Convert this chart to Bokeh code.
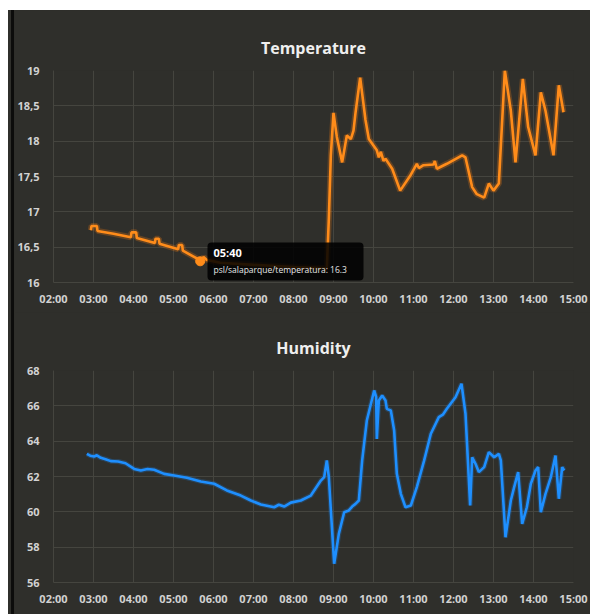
from bokeh.plotting import figure
from bokeh.layouts import column, row
from bokeh.models import Range1d, FixedTicker, BoxAnnotation, Label, Spacer
from bokeh.embed import file_html
from bokeh.resources import INLINE

# ---------------- data ----------------
hour_ticks = list(range(2, 16))
hour_labels = ["%02d:00" % h for h in hour_ticks]

temp_ticks = [16, 16.5, 17, 17.5, 18, 18.5, 19]
temp_tick_labels = ["16", "16,5", "17", "17,5", "18", "18,5", "19"]

hum_ticks = [56, 58, 60, 62, 64, 66, 68]
hum_tick_labels = ["56", "58", "60", "62", "64", "66", "68"]

temp_times = ["02:56", "02:57", "03:05", "03:06", "03:30", "03:56", "03:57", "04:04", "04:05",
              "04:32", "04:33", "04:38", "04:39", "05:07", "05:08", "05:13", "05:14", "05:37",
              "05:40", "05:45", "05:50", "06:10", "07:00", "08:00", "08:50", "08:53", "08:56",
              "09:00", "09:05", "09:13", "09:20", "09:26", "09:30", "09:33", "09:40", "09:48",
              "09:53", "10:05", "10:08", "10:11", "10:15", "10:18", "10:28", "10:40", "10:55",
              "11:05", "11:08", "11:15", "11:30", "11:32", "11:35", "11:50", "12:13", "12:18",
              "12:28", "12:35", "12:46", "12:53", "13:00", "13:08", "13:17", "13:26", "13:33",
              "13:44", "13:52", "14:03", "14:11", "14:18", "14:30", "14:38", "14:45"]
temp_values = [16.74, 16.80, 16.80, 16.73, 16.69, 16.64, 16.71, 16.71, 16.63,
               16.56, 16.62, 16.62, 16.55, 16.47, 16.53, 16.53, 16.45, 16.33,
               16.30, 16.36, 16.32, 16.28, 16.25, 16.22, 16.20, 16.90, 17.80,
               18.40, 18.06, 17.70, 18.08, 18.03, 18.15, 18.40, 18.90, 18.30,
               18.03, 17.87, 17.77, 17.85, 17.72, 17.75, 17.61, 17.30, 17.51,
               17.68, 17.62, 17.66, 17.67, 17.72, 17.61, 17.68, 17.80, 17.77,
               17.35, 17.25, 17.20, 17.40, 17.30, 17.40, 19.00, 18.43, 17.70,
               18.88, 18.20, 17.80, 18.69, 18.43, 17.80, 18.79, 18.41]

hum_times = ["02:50", "02:55", "03:01", "03:05", "03:11", "03:18", "03:26", "03:37", "03:48",
             "04:01", "04:11", "04:21", "04:31", "04:46",
             "05:01", "05:20", "05:41", "06:01", "06:20", "06:41", "06:56", "07:11", "07:31",
             "07:38", "07:46", "07:56", "08:11", "08:26", "08:41", "08:46", "08:50", "08:53", "09:01",
             "09:08", "09:16", "09:23", "09:28", "09:33", "09:38", "09:43", "09:50", "10:01", "10:04",
             "10:05", "10:08", "10:13", "10:18", "10:20", "10:26", "10:31", "10:35", "10:41",
             "10:48", "10:56", "11:05", "11:16", "11:26", "11:38", "11:44", "11:50", "12:03", "12:12",
             "12:18", "12:25", "12:28", "12:33", "12:38", "12:46", "12:53", "13:01", "13:08",
             "13:11", "13:18", "13:26", "13:31", "13:37", "13:43", "13:50", "13:56", "14:03",
             "14:07", "14:11", "14:18", "14:26", "14:33", "14:38", "14:43", "14:46"]
hum_values = [63.28, 63.18, 63.13, 63.20, 63.06, 62.98, 62.87, 62.85, 62.75,
              62.43, 62.34, 62.42, 62.38, 62.15,
              62.06, 61.93, 61.72, 61.59, 61.21, 60.92, 60.64, 60.42, 60.26,
              60.40, 60.30, 60.52, 60.64, 60.92, 61.77, 61.96, 62.91, 61.96, 57.06,
              58.75, 59.98, 60.08, 60.30, 60.45, 60.64, 62.91, 65.17, 66.87, 66.50,
              64.13, 66.30, 66.58, 66.30, 65.83, 65.74, 64.60, 62.15, 61.02,
              60.26, 60.36, 61.40, 62.91, 64.42, 65.36, 65.50, 65.83, 66.49, 67.25,
              65.55, 60.36, 63.09, 62.72, 62.25, 62.53, 63.38, 63.09, 63.28,
              62.91, 58.56, 60.64, 61.40, 62.25, 59.32, 60.26, 61.59, 62.34,
              62.53, 59.98, 61.02, 61.96, 63.19, 60.74, 62.53, 62.34]

tooltip_time = "05:40"
tooltip_series = "psl/salaparque/temperatura"
tooltip_value = "16.3"


def to_hours(t):
    h, m = t.split(":")
    return int(h) + int(m) / 60.0


temp_x = [to_hours(t) for t in temp_times]
hum_x = [to_hours(t) for t in hum_times]

# ---------------- style ----------------
BG = "#2f2f2b"
GRID = "#45453f"
LABEL = "#d2d2d2"
FONT = "Open Sans"
FIG_W = 576


def make_fig(title, height, y0, y1, yticks, ylabels, top, bottom):
    p = figure(width=FIG_W, height=height, x_range=Range1d(2, 15), y_range=Range1d(y0, y1),
               output_backend="svg", toolbar_location=None,
               min_border_left=39, min_border_right=17, min_border_top=top,
               min_border_bottom=bottom,
               background_fill_color=BG, border_fill_color=BG, outline_line_color=None)
    p.title.text = title
    p.title.align = "center"
    p.title.text_color = "#efefef"
    p.title.text_font = FONT
    p.title.text_font_size = "16px"
    p.title.text_font_style = "bold"
    p.title.standoff = 23
    p.title.offset = -8

    p.xaxis.ticker = FixedTicker(ticks=hour_ticks)
    p.xaxis.major_label_overrides = {h: lab for h, lab in zip(hour_ticks, hour_labels)}
    p.yaxis.ticker = FixedTicker(ticks=yticks)
    p.yaxis.major_label_overrides = {v: lab for v, lab in zip(yticks, ylabels)}
    for ax in (p.xaxis, p.yaxis):
        ax.axis_line_color = GRID
        ax.major_tick_line_color = None
        ax.minor_tick_line_color = None
        ax.major_label_text_color = LABEL
        ax.major_label_text_font = FONT
        ax.major_label_text_font_size = "11px"
        ax.major_label_text_font_style = "bold"
    p.xaxis.major_label_standoff = 2
    p.yaxis.major_label_standoff = 8
    p.xgrid.grid_line_color = GRID
    p.ygrid.grid_line_color = GRID
    return p


p1 = make_fig("Temperature", 302, 16, 19, temp_ticks, temp_tick_labels, 60, 30)
p1.line(temp_x, temp_values, line_color="#ff7f0e", line_width=6, line_alpha=0.25)
p1.line(temp_x, temp_values, line_color="#ff8c1a", line_width=2.6)
i = temp_times.index(tooltip_time)
p1.scatter([temp_x[i]], [temp_values[i]], size=9, fill_color="#ff8c1a", line_color="#ff8c1a")

tip = BoxAnnotation(left=5.85, right=9.75, bottom=16.03, top=16.566,
                    fill_color="#000000", fill_alpha=0.86, line_color=None,
                    border_radius=4, level="overlay")
p1.add_layout(tip)
p1.add_layout(Label(x=6.0, y=16.425, text=tooltip_time, text_color="#ffffff",
                    text_font=FONT, text_font_size="11px", text_font_style="bold",
                    text_baseline="middle", level="overlay"))
p1.add_layout(Label(x=6.0, y=16.184, text=tooltip_series + ": " + tooltip_value,
                    text_color="#e8e8e8", text_font=FONT, text_font_size="8.5px",
                    text_baseline="middle", level="overlay"))

p2 = make_fig("Humidity", 302, 56, 68, hum_ticks, hum_tick_labels, 58, 32)
p2.line(hum_x, hum_values, line_color="#1e7fe0", line_width=5, line_alpha=0.25)
p2.line(hum_x, hum_values, line_color="#1e8fff", line_width=2.6)

charts = column(p1, p2, spacing=0, styles={"background-color": BG})
strip_dark = Spacer(width=3, height=604, margin=0, styles={"background-color": BG})
strip_black = Spacer(width=3, height=604, margin=0, styles={"background-color": "#0c0c0b"})
left_gap = Spacer(width=8, height=604, margin=0)
body = row(left_gap, strip_dark, strip_black, charts, spacing=0)
layout = column(Spacer(width=590, height=10, margin=0), body, spacing=0)
open("out.html", "w").write(file_html(layout, INLINE))
